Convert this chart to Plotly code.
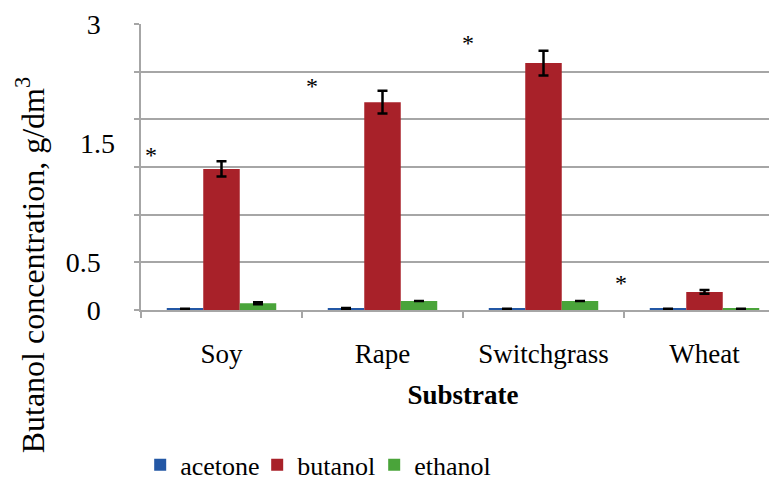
import plotly.graph_objects as go

categories = ["Soy", "Rape", "Switchgrass", "Wheat"]
acetone = [0.012, 0.012, 0.012, 0.012]
acetone_err = [None, 0.008, None, None]
butanol = [1.48, 2.18, 2.59, 0.19]
butanol_err = [0.08, 0.12, 0.13, 0.02]
ethanol = [0.07, 0.095, 0.095, 0.012]
ethanol_err = [0.01, None, None, None]
star_y = [1.63, 2.35, 2.80, 0.28]
star_shift = [-0.44, 0.56, 1.53, 2.48]
y_gridvals = [0, 0.5, 1.0, 1.5, 2.0, 2.5, 3.0]
y_ticktext = ["0", "0.5", "", "", "", "", "3"]
# in the original the "1.5" label is printed a little above its gridline
y_label_15 = "1.5"
y_label_15_pos = 1.75

FONT = "Liberation Serif"
GRID = "#a6a6a6"

fig = go.Figure()
series = [
    ("acetone", acetone, acetone_err, "#2357a5"),
    ("butanol", butanol, butanol_err, "#a82129"),
    ("ethanol", ethanol, ethanol_err, "#4aa43a"),
]
for name, vals, err, col in series:
    fig.add_trace(go.Bar(
        x=categories, y=vals, name=name, marker=dict(color=col, line=dict(width=0)),
        error_y=dict(type="data", array=err, visible=True, color="black", thickness=2.5, width=5),
    ))

for s, yv in zip(star_shift, star_y):
    fig.add_annotation(x=s, y=yv, xref="x", yref="y", text="*", showarrow=False,
                       font=dict(family=FONT, size=24, color="black"))

fig.add_annotation(x=-0.038, y=y_label_15_pos, xref="paper", yref="y", text=y_label_15,
                   showarrow=False, xanchor="right", yanchor="middle",
                   font=dict(family=FONT, size=28, color="black"))

# y-axis title (sits lower than the plot centre, as in the original)
fig.add_annotation(x=-0.172, y=0.157, xref="paper", yref="paper",
                   text="Butanol concentration, g/dm<sup>3</sup>",
                   showarrow=False, textangle=-90, font=dict(family=FONT, size=32, color="black"),
                   xanchor="center", yanchor="middle")

fig.update_layout(
    width=777, height=485,
    margin=dict(l=133, r=0, t=16, b=183, autoexpand=False),
    paper_bgcolor="white", plot_bgcolor="white",
    barmode="group", bargap=0.32, bargroupgap=0,
    font=dict(family=FONT, size=26, color="black"),
    legend=dict(orientation="h", xref="container", yref="container", x=0.396, y=0.058,
                xanchor="center", yanchor="middle",
                font=dict(family=FONT, size=26, color="black"),
                itemwidth=30, tracegroupgap=0, entrywidth=72, entrywidthmode="pixels"),
    xaxis=dict(
        automargin=False,
        showline=True, linecolor=GRID, linewidth=1.5,
        ticks="outside", tickson="boundaries", ticklen=6, tickcolor=GRID, tickwidth=1.5,
        tickfont=dict(family=FONT, size=27), ticklabelstandoff=19,
        title=dict(text="<b>Substrate</b>", font=dict(family=FONT, size=27), standoff=17),
    ),
    yaxis=dict(
        automargin=False,
        range=[0, 3], tickvals=y_gridvals, ticktext=y_ticktext,
        showline=True, linecolor=GRID, linewidth=1.5,
        showgrid=True, gridcolor=GRID, gridwidth=1.5, zeroline=False,
        ticks="outside", ticklen=5, tickcolor=GRID, tickwidth=1.5,
        tickfont=dict(family=FONT, size=28), ticklabelstandoff=28,
    ),
)

fig.write_html("out.html")
